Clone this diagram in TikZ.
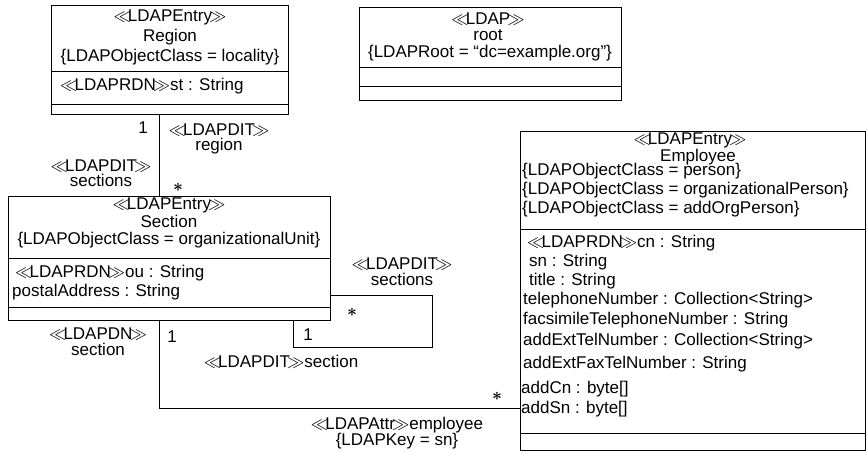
\documentclass[tikz,border=0pt]{standalone}
\usepackage{fontspec}
\setmainfont{Liberation Sans}
\usepackage{tikz}
\newcommand{\stereo}[1]{$\ll\!$#1$\!\gg$}
\newcommand{\many}{{\boldmath$\ast$}}

\begin{document}
\begin{tikzpicture}[x=1pt, y=-1pt,
class/.style={draw, line width=1pt, inner sep=0pt, anchor=north west},
txt/.style={inner sep=0pt, text height=11pt, text depth=3pt, font=\fontsize{17}{19}\selectfont},
attr/.style={txt, anchor=mid west},
mult/.style={inner sep=0pt, font=\fontsize{17}{19}\selectfont, anchor=base},
assoc/.style={line width=0.8pt}
]
\useasboundingbox (0,0) rectangle (867,453);

\node[class, minimum width=237pt, minimum height=109pt] (region) at (51,5) {};
\draw[line width=1pt] (region.west |- 0,71) -- (region.east |- 0,71);
\draw[line width=1pt] (region.west |- 0,104) -- (region.east |- 0,104);
\node[txt] (regStereo) at (170,17) {\stereo{LDAPEntry}};
\node[txt] (regName) at (170,37) {Region};
\node[txt] (regTag) at (170,57) {\{LDAPObjectClass = locality\}};
\node[attr] (regSt) at (60,88) {\stereo{LDAPRDN}st : String};

\node[class, minimum width=262pt, minimum height=93pt] (root) at (359,7) {};
\draw[line width=1pt] (root.west |- 0,67) -- (root.east |- 0,67);
\draw[line width=1pt] (root.west |- 0,86) -- (root.east |- 0,86);
\node[txt] (rootStereo) at (488,20) {\stereo{LDAP}};
\node[txt] (rootName) at (488,36) {root};
\node[txt] (rootTag) at (490,53) {\{LDAPRoot = “dc=example.org”\}};

\node[class, minimum width=322pt, minimum height=124pt] (section) at (8,196) {};
\draw[line width=1pt] (section.west |- 0,258) -- (section.east |- 0,258);
\draw[line width=1pt] (section.west |- 0,307) -- (section.east |- 0,307);
\node[txt] (secStereo) at (169,205) {\stereo{LDAPEntry}};
\node[txt] (secName) at (169,223) {Section};
\node[txt] (secTag) at (169,240) {\{LDAPObjectClass = organizationalUnit\}};
\node[attr] (secOu) at (15,275) {\stereo{LDAPRDN}ou : String};
\node[attr] (secPostal) at (12,294) {postalAddress : String};

\node[class, minimum width=345pt, minimum height=319pt] (employee) at (520,131) {};
\draw[line width=1pt] (employee.west |- 0,229) -- (employee.east |- 0,229);
\draw[line width=1pt] (employee.west |- 0,433) -- (employee.east |- 0,433);
\node[txt] (empStereo) at (690,140) {\stereo{LDAPEntry}};
\node[txt] (empName) at (698,157) {Employee};
\node[attr] (empTagA) at (522,173) {\{LDAPObjectClass = person\}};
\node[attr] (empTagB) at (522,192) {\{LDAPObjectClass = organizationalPerson\}};
\node[attr] (empTagC) at (522,211) {\{LDAPObjectClass = addOrgPerson\}};
\foreach \x/\y/\attrtext [count=\i] in {
  527/245/{\stereo{LDAPRDN}cn : String},
  529/264/{sn : String},
  529/283/{title : String},
  523/302/{telephoneNumber : Collection<String>},
  523/322/{facsimileTelephoneNumber : String},
  523/343/{addExtTelNumber : Collection<String>},
  523/366/{addExtFaxTelNumber : String},
  521/391/{addCn : byte[]},
  521/411/{addSn : byte[]}}
  \node[attr] (empAttr\i) at (\x,\y) {\attrtext};

\coordinate (ditX) at (159,0);
\coordinate (loopCorner) at (432,347);
\coordinate (loopX) at (293,0);
\draw[assoc] (region.south -| ditX) -- (section.north -| ditX);
\draw[assoc] (section.east |- 0,295) -| (loopCorner) -| (section.south -| loopX);
\draw[assoc] (section.south -| ditX) |- (employee.west |- 0,408);

\node[txt, anchor=mid east] (regOne) at (148,131) {1};
\node[txt] (regRole) at (219,131) {\stereo{LDAPDIT}};
\node[txt] (regRoleName) at (219,146) {region};
\node[txt] (secRole) at (101,167) {\stereo{LDAPDIT}};
\node[txt] (secRoleName) at (101,182) {sections};
\node[mult] (regMany) at (178,191) {\many};

\node[txt] (loopRole) at (402,265) {\stereo{LDAPDIT}};
\node[txt] (loopRoleName) at (402,281) {sections};
\node[mult] (loopMany) at (352,316) {\many};
\node[txt] (loopOne) at (308,336) {1};
\node[txt] (loopBack) at (281,363) {\stereo{LDAPDIT}section};

\node[txt] (dnRole) at (98,335) {\stereo{LDAPDN}};
\node[txt] (dnRoleName) at (98,351) {section};
\node[txt] (dnOne) at (172,338) {1};
\node[mult] (dnMany) at (497,400) {\many};
\node[txt] (attrRole) at (397,425) {\stereo{LDAPAttr}employee};
\node[txt] (attrKey) at (397,441) {\{LDAPKey = sn\}};
\end{tikzpicture}
\end{document}
